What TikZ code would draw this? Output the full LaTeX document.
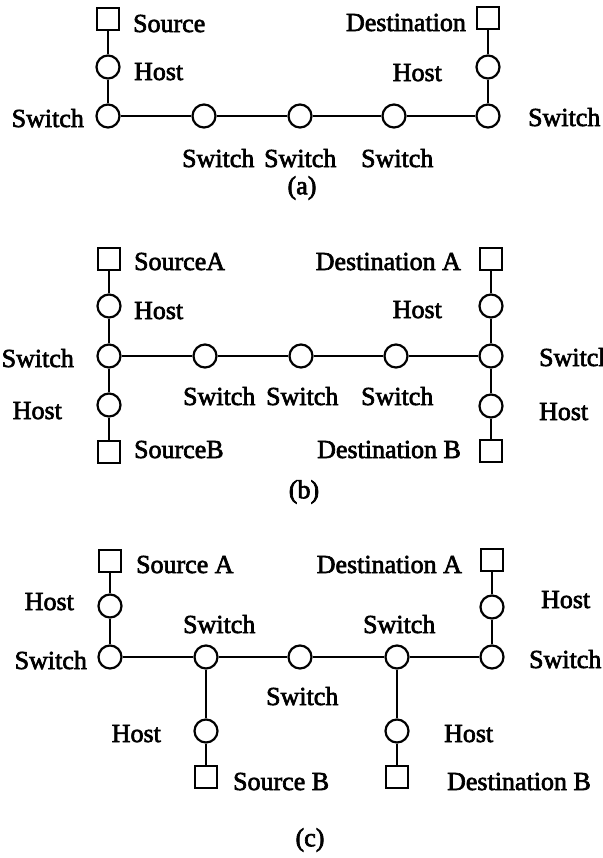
\documentclass[tikz,border=0pt]{standalone}
\usepackage{fontspec}
\setmainfont{Liberation Serif}[RawFeature={embolden=2.5}]
\tikzset{
  nd/.style={draw, circle, minimum size=11.5pt, inner sep=0pt},
  endpt/.style={draw, rectangle, minimum size=11pt, inner sep=0pt},
  lbl/.style={anchor=base west, inner sep=0pt},
  lblr/.style={anchor=base east, inner sep=0pt}
}
\begin{document}
\begin{tikzpicture}[x=0.5pt, y=-0.5pt, line width=1.1pt, font=\fontsize{13}{15}\selectfont]
  \useasboundingbox (0,0) rectangle (602,858);
  % (a)
  \node[endpt] at (108,19) (asrc) {};
  \node[nd] at (108,67) (ahost1) {};
  \node[nd] at (108,116) (asw1) {};
  \node[nd] at (204,116) (asw2) {};
  \node[nd] at (300,116) (asw3) {};
  \node[nd] at (394,116) (asw4) {};
  \node[nd] at (488,116) (asw5) {};
  \node[nd] at (488,67) (ahost2) {};
  \node[endpt] at (488,18) (adst) {};
  \draw (asrc) -- (ahost1) -- (asw1) -- (asw2) -- (asw3) -- (asw4) -- (asw5) -- (ahost2) -- (adst);
  \node[lbl] at (132,32) (asrcl) {Source};
  \node[lbl] at (133,80) (ahost1l) {Host};
  \node[lblr] at (85,127) (asw1l) {Switch};
  \node[lbl] at (181,167) (asw2l) {Switch};
  \node[lbl] at (263,167) (asw3l) {Switch};
  \node[lbl] at (360,167) (asw4l) {Switch};
  \node[lbl] at (527,126) (asw5l) {Switch};
  \node[lblr] at (443,81) (ahost2l) {Host};
  \node[lblr] at (467,31) (adstl) {Destination};
  \node at (302,188) (acap) {(a)};
  % (b)
  \node[endpt] at (109,259) (bsrcA) {};
  \node[nd] at (109,306) (bhost1) {};
  \node[nd] at (109,356) (bsw1) {};
  \node[nd] at (109,405) (bhost2) {};
  \node[endpt] at (109,452) (bsrcB) {};
  \node[nd] at (205,356) (bsw2) {};
  \node[nd] at (301,356) (bsw3) {};
  \node[nd] at (396,356) (bsw4) {};
  \node[nd] at (491,356) (bsw5) {};
  \node[nd] at (491,306) (bhost3) {};
  \node[endpt] at (491,259) (bdstA) {};
  \node[nd] at (491,406) (bhost4) {};
  \node[endpt] at (491,451) (bdstB) {};
  \draw (bsrcA) -- (bhost1) -- (bsw1) -- (bhost2) -- (bsrcB);
  \draw (bsw1) -- (bsw2) -- (bsw3) -- (bsw4) -- (bsw5);
  \draw (bdstA) -- (bhost3) -- (bsw5) -- (bhost4) -- (bdstB);
  \node[lbl] at (133,270) (bsrcAl) {SourceA};
  \node[lbl] at (133,319) (bhost1l) {Host};
  \node[lblr] at (75,367) (bsw1l) {Switch};
  \node[lblr] at (63,419) (bhost2l) {Host};
  \node[lbl] at (133,458) (bsrcBl) {SourceB};
  \node[lbl] at (182,405) (bsw2l) {Switch};
  \node[lbl] at (265,405) (bsw3l) {Switch};
  \node[lbl] at (360,405) (bsw4l) {Switch};
  \node[lblr] at (462,270) (bdstAl) {Destination A};
  \node[lblr] at (443,318) (bhost3l) {Host};
  \node[lbl] at (538,366) (bsw5l) {Switch};
  \node[lbl] at (538,420) (bhost4l) {Host};
  \node[lblr] at (462,458) (bdstBl) {Destination B};
  \node at (304,492) (bcap) {(b)};
  % (c)
  \node[endpt] at (110,561) (csrcA) {};
  \node[nd] at (110,606) (chost1) {};
  \node[nd] at (110,657) (csw1) {};
  \node[nd] at (206,657) (csw2) {};
  \node[nd] at (206,731) (chost2) {};
  \node[endpt] at (206,777) (csrcB) {};
  \node[nd] at (300,657) (csw3) {};
  \node[nd] at (397,657) (csw4) {};
  \node[nd] at (397,731) (chost3) {};
  \node[endpt] at (397,777) (cdstB) {};
  \node[nd] at (492,657) (csw5) {};
  \node[nd] at (492,607) (chost4) {};
  \node[endpt] at (492,560) (cdstA) {};
  \draw (csrcA) -- (chost1) -- (csw1) -- (csw2) -- (csw3) -- (csw4) -- (csw5) -- (chost4) -- (cdstA);
  \draw (csw2) -- (chost2) -- (csrcB);
  \draw (csw4) -- (chost3) -- (cdstB);
  \node[lbl] at (135,573) (csrcAl) {Source A};
  \node[lblr] at (463,573) (cdstAl) {Destination A};
  \node[lblr] at (75,610) (chost1l) {Host};
  \node[lbl] at (540,608) (chost4l) {Host};
  \node[lbl] at (182,633) (csw2l) {Switch};
  \node[lbl] at (362,633) (csw4l) {Switch};
  \node[lblr] at (88,669) (csw1l) {Switch};
  \node[lbl] at (528,668) (csw5l) {Switch};
  \node[lbl] at (265,705) (csw3l) {Switch};
  \node[lblr] at (162,742) (chost2l) {Host};
  \node[lbl] at (443,742) (chost3l) {Host};
  \node[lbl] at (232,790) (csrcBl) {Source B};
  \node[lbl] at (446,790) (cdstBl) {Destination B};
  \node at (310,840) (ccap) {(c)};
\end{tikzpicture}
\end{document}
